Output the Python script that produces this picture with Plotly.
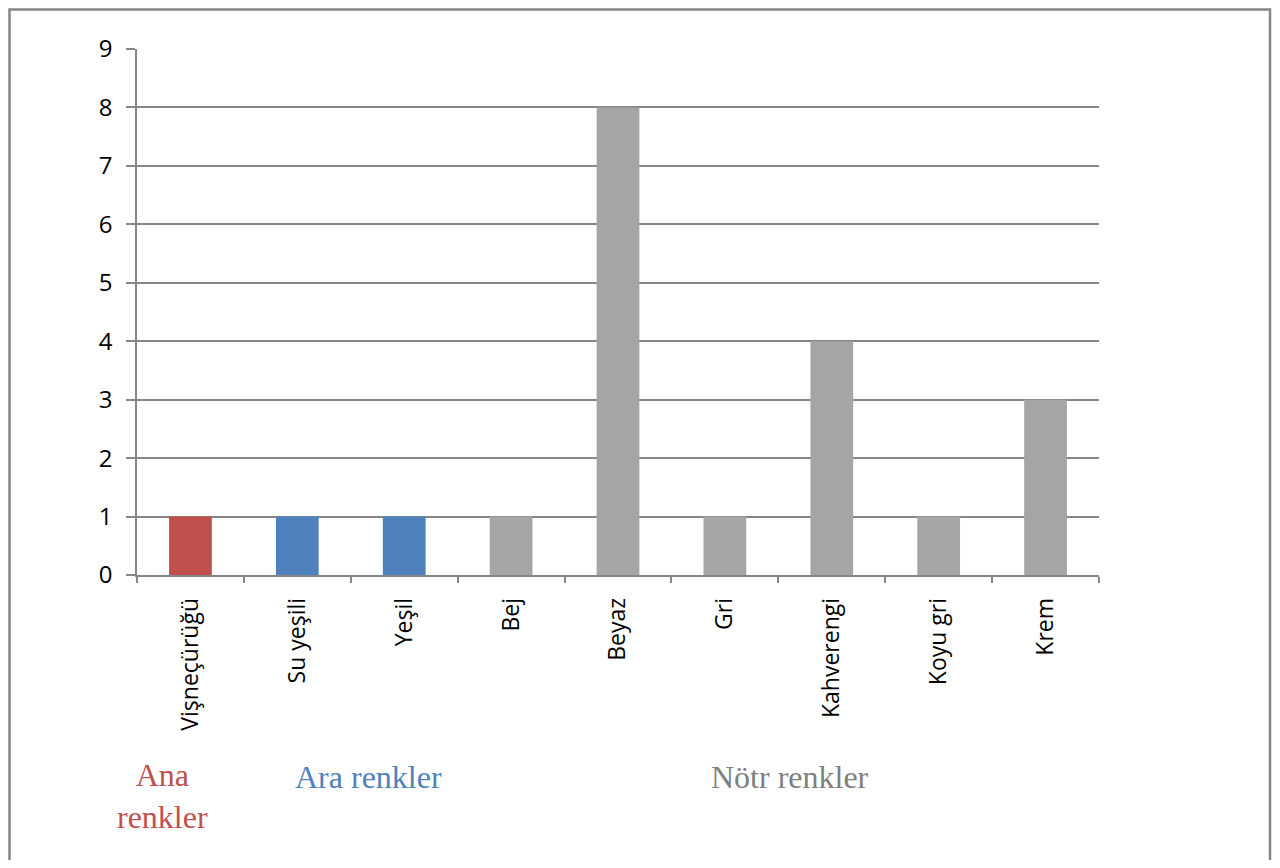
import plotly.graph_objects as go

# ── data ────────────────────────────────────────────────────────────────
categories = ["Vişneçürüğü", "Su yeşili", "Yeşil", "Bej", "Beyaz",
              "Gri", "Kahverengi", "Koyu gri", "Krem"]
counts = [1, 1, 1, 1, 8, 1, 4, 1, 3]
groups = ["Ana", "Ara", "Ara", "Nötr", "Nötr", "Nötr", "Nötr", "Nötr", "Nötr"]

group_labels = ["Ana<br>renkler", "Ara renkler", "Nötr renkler"]
y_ticks = list(range(0, 10))

# ── styling ─────────────────────────────────────────────────────────────
GROUP_COLORS = {"Ana": "#C0504D", "Ara": "#4F81BD", "Nötr": "#A5A5A5"}
LABEL_COLORS = ["#C0504D", "#4F81BD", "#7F7F7F"]
LINE = "#868686"

# page body has an 8px margin, so the figure starts at (8, 8) on screen
OFF = 8
W, H = 1280 - 2 * OFF, 868 - 2 * OFF
# plot area in screen pixels: x 137..1099, y 49..575
L, R, T, B = 137, 1099, 49, 575


def px_x(px):
    return (px - L) / (R - L)


def px_y(py):
    return (B - py) / (B - T)


fig = go.Figure(
    go.Bar(
        x=categories,
        y=counts,
        marker=dict(color=[GROUP_COLORS[g] for g in groups], line=dict(width=0)),
        hoverinfo="x+y",
    )
)

fig.update_layout(
    width=W,
    height=H,
    margin=dict(l=L - OFF, r=W + OFF - R, t=T - OFF, b=H + OFF - B, pad=0),
    paper_bgcolor="white",
    plot_bgcolor="white",
    bargap=0.6,
    showlegend=False,
    font=dict(family="Open Sans, sans-serif", size=23, color="black"),
)

fig.update_xaxes(
    type="category",
    tickangle=-90,
    showgrid=False,
    showline=True,
    linecolor=LINE,
    linewidth=1.5,
    ticks="outside",
    tickson="boundaries",
    ticklen=6,
    tickwidth=1.5,
    tickcolor=LINE,
    ticklabelstandoff=12,
    tickfont=dict(size=23),
)

fig.update_yaxes(
    range=[0, 9],
    tickvals=y_ticks,
    showgrid=True,
    gridcolor=LINE,
    gridwidth=1.5,
    zeroline=False,
    showline=True,
    linecolor=LINE,
    linewidth=1.5,
    ticks="outside",
    ticklen=9,
    tickwidth=1.5,
    tickcolor=LINE,
    ticklabelstandoff=9,
    tickfont=dict(size=24),
)

# outer chart frame (bottom edge runs off the page); kept just inside the figure
fig.add_shape(
    type="rect", xref="paper", yref="paper",
    x0=px_x(OFF + 1.5), x1=px_x(1270), y0=px_y(900), y1=px_y(OFF + 1.5),
    line=dict(color=LINE, width=2.5), fillcolor="rgba(0,0,0,0)",
    layer="below",
)

# group captions under the category labels
label_pos = [(162, 755), (368, 757), (790, 757)]
for text, color, (lx, ly) in zip(group_labels, LABEL_COLORS, label_pos):
    fig.add_annotation(
        text=text, xref="paper", yref="paper",
        x=px_x(lx), y=px_y(ly), xanchor="center", yanchor="top",
        showarrow=False, align="center",
        font=dict(family="Liberation Serif, Times New Roman, serif",
                  size=32, color=color),
    )

fig.write_html("out.html")
